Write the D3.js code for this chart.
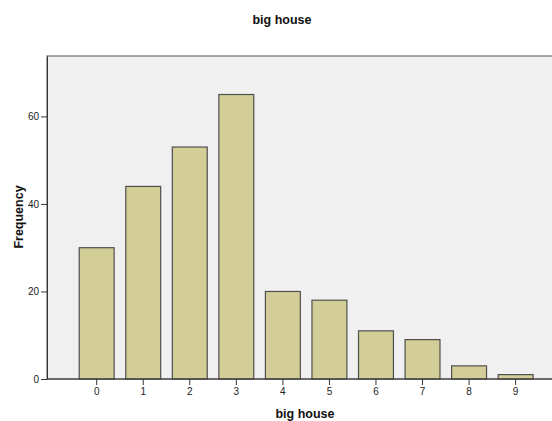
<!DOCTYPE html>
<html>
<head>
<meta charset="utf-8">
<script src="https://cdn.jsdelivr.net/npm/d3@7"></script>
<style>
  html, body { margin: 0; padding: 0; background: #fff; overflow: hidden; }
  svg { display: block; }
</style>
</head>
<body>
<div id="chart"></div>
<script>
// Frequency counts of the "big house" variable
const categories = ["0", "1", "2", "3", "4", "5", "6", "7", "8", "9"];
const frequencies = [30, 44, 53, 65, 20, 18, 11, 9, 3, 1];
const yTicks = [0, 20, 40, 60];
const chartTitle = "big house";
const xTitle = "big house";
const yTitle = "Frequency";

const W = 552, H = 421;
const plot = { left: 47, top: 56, right: 560, bottom: 379 };

const svg = d3.select("#chart").append("svg")
  .attr("width", W).attr("height", H);

const x = d3.scaleBand()
  .domain(categories)
  .range([73.4, 538.9])
  .paddingInner(0.25)
  .paddingOuter(0.125);

const y = d3.scaleLinear()
  .domain([0, 73.8])
  .range([plot.bottom, plot.top]);

// Plot frame
svg.append("rect")
  .attr("x", plot.left).attr("y", plot.top)
  .attr("width", plot.right - plot.left)
  .attr("height", plot.bottom - plot.top)
  .attr("fill", "#f0f0f0")
  .attr("stroke", "#6e6e6e")
  .attr("stroke-width", 1.2);

// Bars
svg.append("g").selectAll("rect")
  .data(frequencies)
  .join("rect")
  .attr("x", (d, i) => x(categories[i]))
  .attr("y", d => y(d))
  .attr("width", x.bandwidth())
  .attr("height", d => y(0) - y(d))
  .attr("fill", "#d3ce98")
  .attr("stroke", "#4f4f4f")
  .attr("stroke-width", 1.2);

// Axes
const fontFam = "Arial, 'Liberation Sans', sans-serif";

const yAxis = svg.append("g")
  .attr("transform", `translate(${plot.left},0)`)
  .call(d3.axisLeft(y).tickValues(yTicks).tickSize(6).tickSizeOuter(0).tickPadding(2).tickFormat(d3.format("d")));
yAxis.select(".domain").attr("stroke", "#333");
yAxis.selectAll(".tick line").attr("stroke", "#333");
yAxis.selectAll("text").attr("font-family", fontFam).attr("font-size", 10).attr("fill", "#222");

const xAxis = svg.append("g")
  .attr("transform", `translate(0,${plot.bottom})`)
  .call(d3.axisBottom(x).tickSize(6).tickPadding(3).tickSizeOuter(0));
xAxis.select(".domain").remove();
xAxis.selectAll(".tick line").attr("stroke", "#333");
xAxis.selectAll("text").attr("font-family", fontFam).attr("font-size", 10).attr("fill", "#222");

svg.append("line")
  .attr("x1", plot.left).attr("x2", W)
  .attr("y1", plot.bottom).attr("y2", plot.bottom)
  .attr("stroke", "#333").attr("stroke-width", 1.2);

// Titles
svg.append("text")
  .attr("x", 282).attr("y", 24)
  .attr("text-anchor", "middle")
  .attr("font-family", fontFam).attr("font-weight", "bold").attr("font-size", 12.5)
  .attr("fill", "#111")
  .text(chartTitle);

svg.append("text")
  .attr("x", 305).attr("y", 418)
  .attr("text-anchor", "middle")
  .attr("font-family", fontFam).attr("font-weight", "bold").attr("font-size", 12.5)
  .attr("fill", "#111")
  .text(xTitle);

svg.append("text")
  .attr("transform", `translate(23,217) rotate(-90)`)
  .attr("text-anchor", "middle")
  .attr("font-family", fontFam).attr("font-weight", "bold").attr("font-size", 12.5)
  .attr("fill", "#111")
  .text(yTitle);
</script>
</body>
</html>
